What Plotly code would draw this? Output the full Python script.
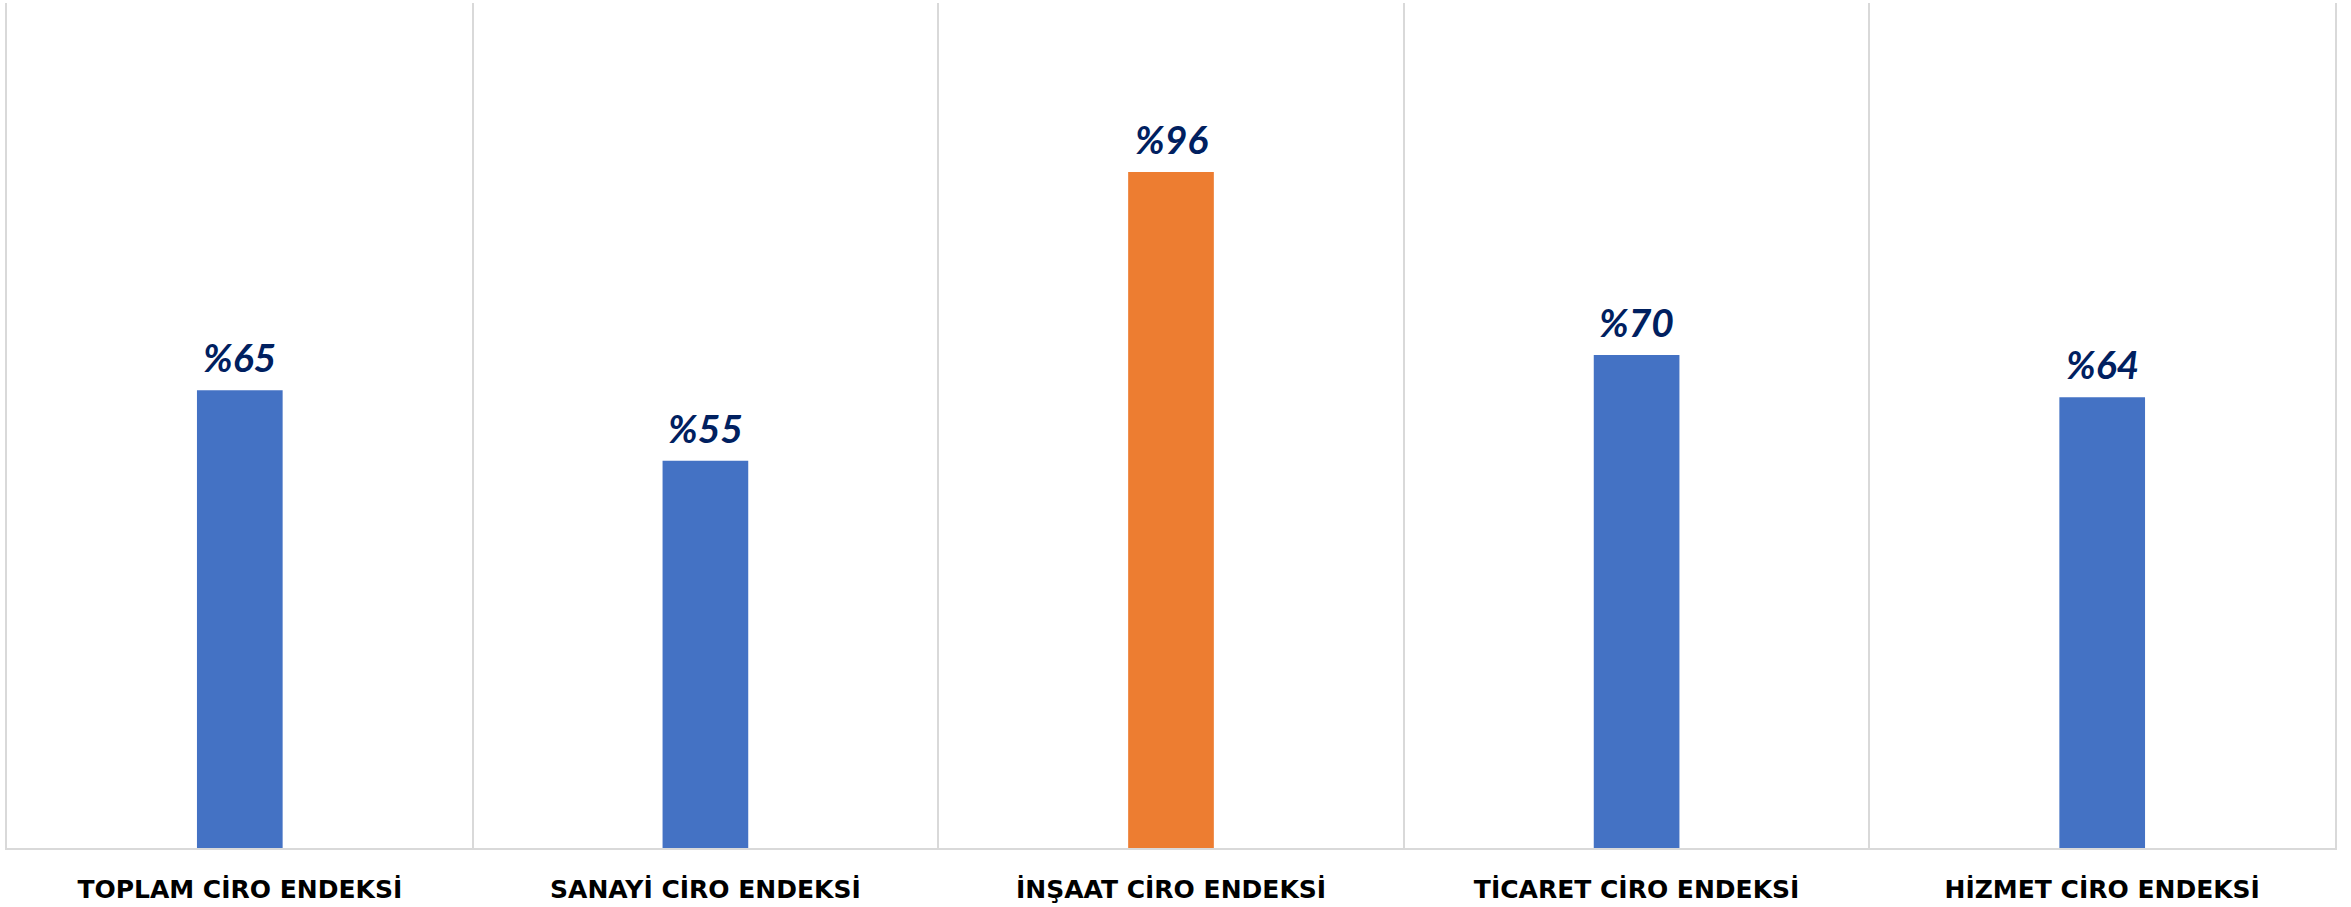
import plotly.graph_objects as go

categories = ["TOPLAM CİRO ENDEKSİ", "SANAYİ CİRO ENDEKSİ", "İNŞAAT CİRO ENDEKSİ",
              "TİCARET CİRO ENDEKSİ", "HİZMET CİRO ENDEKSİ"]
values = [65, 55, 96, 70, 64]
value_labels = ["%65", "%55", "%96", "%70", "%64"]
bar_colors = ["#4472C4", "#4472C4", "#ED7D31", "#4472C4", "#4472C4"]

fig = go.Figure()
fig.add_trace(go.Bar(
    x=categories, y=values,
    marker=dict(color=bar_colors, line=dict(width=0)),
    width=0.184,
    hoverinfo="skip",
))

for c, v, t in zip(categories, values, value_labels):
    fig.add_annotation(
        x=c, y=v, text=t, showarrow=False, yanchor="bottom", yshift=8,
        font=dict(family="Lato", size=39, color="#002060", weight="bold", style="italic"),
    )

fig.update_layout(
    width=2351, height=907,
    margin=dict(l=7, r=16, t=3, b=53),
    paper_bgcolor="white", plot_bgcolor="white",
    showlegend=False,
    xaxis=dict(
        type="category", tickson="boundaries", showgrid=True,
        gridcolor="#D9D9D9", gridwidth=2,
        showline=True, linecolor="#D9D9D9", linewidth=2,
        ticks="", ticklabelstandoff=18,
        tickfont=dict(family="DejaVu Sans", size=25, color="#000000", weight="bold"),
        fixedrange=True,
    ),
    yaxis=dict(
        range=[0, 120], showgrid=False, zeroline=False,
        showticklabels=False, ticks="",
        showline=True, linecolor="#D9D9D9", linewidth=2, mirror=True,
        fixedrange=True,
    ),
)

fig.write_html("out.html", config={"displayModeBar": False},
               post_script="document.body.style.margin='0';document.body.style.overflow='hidden';")
